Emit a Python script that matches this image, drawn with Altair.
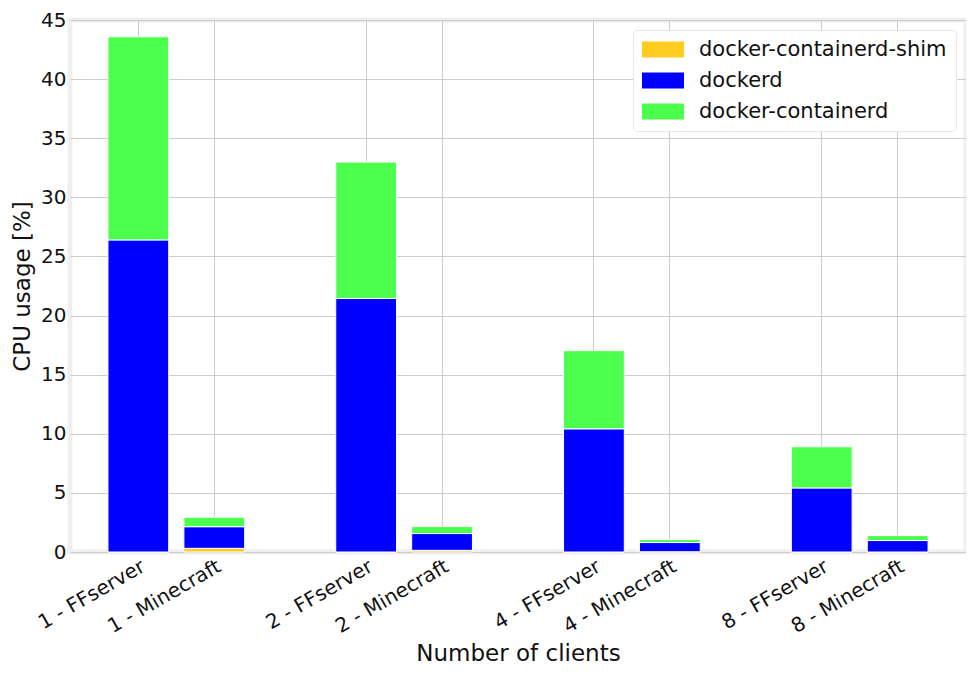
import altair as alt
import pandas as pd

# Categories (in display order) and the blank spacer slots between groups
categories = ["1 - FFserver", "1 - Minecraft", "2 - FFserver", "2 - Minecraft",
              "4 - FFserver", "4 - Minecraft", "8 - FFserver", "8 - Minecraft"]
slots = ["1 - FFserver", "1 - Minecraft", " ", "2 - FFserver", "2 - Minecraft", "  ",
         "4 - FFserver", "4 - Minecraft", "   ", "8 - FFserver", "8 - Minecraft"]

series = ["docker-containerd-shim", "dockerd", "docker-containerd"]
colors = ["#ffcc1f", "#0000ff", "#4cff4c"]

shim = [0.0, 0.31, 0.0, 0.14, 0.0, 0.02, 0.0, 0.0]
dockerd = [26.4, 1.83, 21.45, 1.42, 10.42, 0.78, 5.42, 0.97]
containerd = [17.18, 0.80, 11.53, 0.59, 6.61, 0.25, 3.48, 0.42]

rows = []
for vals, name in zip([shim, dockerd, containerd], series):
    for c, v in zip(categories, vals):
        rows.append({"category": c, "process": name, "cpu": v,
                     "k": series.index(name)})
df = pd.DataFrame(rows)

font = "DejaVu Sans"

chart = alt.Chart(df).mark_bar(stroke="white", strokeWidth=1).encode(
    x=alt.X("category:N",
            scale=alt.Scale(domain=slots, paddingInner=0.2, paddingOuter=0.5),
            axis=alt.Axis(values=categories, labelAngle=330, labelAlign="right",
                          labelBaseline="top", labelPadding=4,
                          title="Number of clients", titlePadding=6),
            sort=slots),
    y=alt.Y("cpu:Q", stack="zero",
            scale=alt.Scale(domain=[0, 45], nice=False),
            axis=alt.Axis(values=list(range(0, 46, 5)), title="CPU usage [%]",
                          labelPadding=4, titlePadding=6)),
    color=alt.Color("process:N",
                    scale=alt.Scale(domain=series, range=colors),
                    legend=alt.Legend(orient="top-right", title=None, offset=10,
                                      symbolType="M-1,-0.76H3V0.76H-1Z",
                                      symbolSize=441, symbolStrokeWidth=0,
                                      labelFontSize=21, labelFont=font,
                                      labelColor="#111111", labelLimit=500,
                                      labelOffset=36, rowPadding=9,
                                      padding=9, fillColor="white",
                                      strokeColor="#e8e8e8", cornerRadius=4)),
    order=alt.Order("k:Q", sort="ascending"),
).properties(
    width=896, height=532,
    padding={"left": 3, "top": 2, "right": 0, "bottom": 2}
).configure_view(
    stroke="#efefef", strokeWidth=5
).configure_axis(
    labelFont=font, titleFont=font, labelFontSize=20, titleFontSize=23,
    titleFontWeight="normal", labelColor="#111111", titleColor="#111111",
    grid=True, gridColor="#cccccc", gridWidth=1, domain=False, ticks=False,
).configure_axisX(
    bandPosition=0.5
)

chart.save("out.html", embed_options={"renderer": "svg", "actions": False})
